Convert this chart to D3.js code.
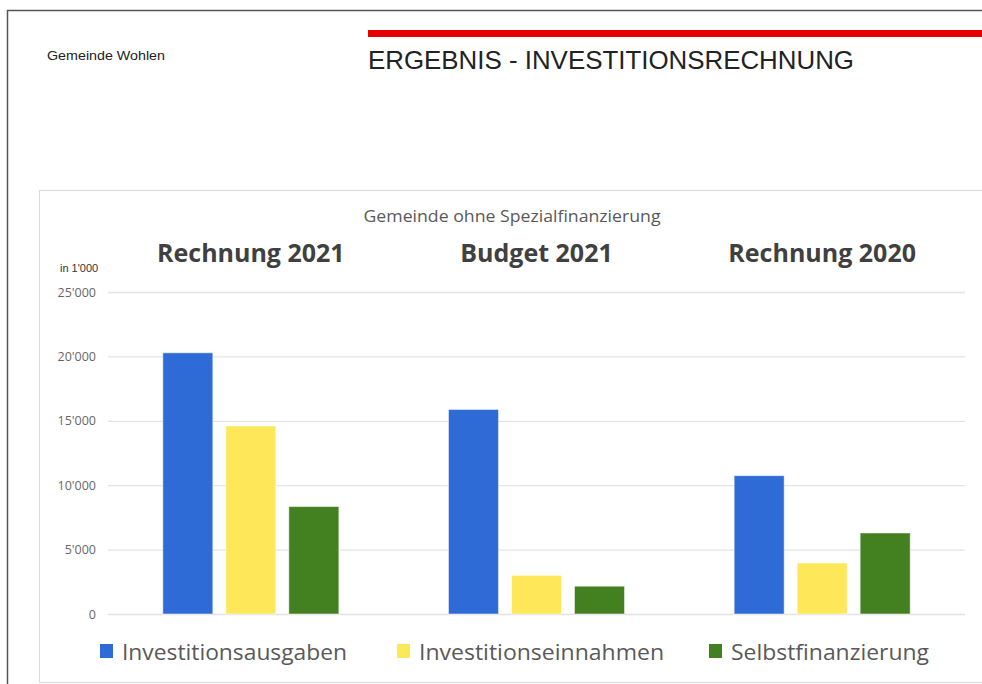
<!DOCTYPE html>
<html>
<head>
<meta charset="utf-8">
<script src="https://cdn.jsdelivr.net/npm/d3@7"></script>
<style>
  body { margin: 0; background: #fff; }
  svg { display: block; }
</style>
</head>
<body>
<div id="chart"></div>
<script>
// chart values, in 1'000 CHF
const groups = ["Rechnung 2021", "Budget 2021", "Rechnung 2020"];
const seriesNames = ["Investitionsausgaben", "Investitionseinnahmen", "Selbstfinanzierung"];
const ausgaben = [20280, 15880, 10740];
const einnahmen = [14600, 3000, 3960];
const selbstfinanzierung = [8340, 2160, 6290];
const yTicks = [0, 5000, 10000, 15000, 20000, 25000];
const colors = ["#2f6bd6", "#ffe75a", "#428020"];

const W = 982, H = 684;

const svg = d3.select("#chart").append("svg")
    .attr("width", W)
    .attr("height", H);

// page frame
svg.append("path")
    .attr("d", `M7.5,${H} V10.5 H${W}`)
    .attr("fill", "none")
    .attr("stroke", "#555")
    .attr("stroke-width", 1.5);

svg.append("text")
    .attr("x", 47).attr("y", 60)
    .attr("textLength", 118)
    .attr("lengthAdjust", "spacingAndGlyphs")
    .style("font-family", "Liberation Sans, Arial, sans-serif")
    .style("font-size", "13.5px")
    .style("fill", "#222")
    .text("Gemeinde Wohlen");

svg.append("rect")
    .attr("x", 368).attr("y", 30)
    .attr("width", W - 368).attr("height", 7)
    .attr("fill", "#e60000");

svg.append("text")
    .attr("x", 368).attr("y", 69)
    .attr("textLength", 486)
    .attr("lengthAdjust", "spacingAndGlyphs")
    .style("font-family", "Liberation Sans, Arial, sans-serif")
    .style("font-size", "26px")
    .style("fill", "#222")
    .text("ERGEBNIS - INVESTITIONSRECHNUNG");

// chart area box
svg.append("rect")
    .attr("x", 39.5).attr("y", 190.5)
    .attr("width", W).attr("height", 492)
    .attr("fill", "#fff")
    .attr("stroke", "#d9d9d9");

const margin = {left: 108, right: W - 965, top: 292, bottom: H - 614};

const x = d3.scaleBand()
    .domain(groups)
    .range([margin.left, W - margin.right])
    .paddingInner(0)
    .paddingOuter(0);

const xInner = d3.scaleBand()
    .domain(seriesNames)
    .range([0, x.bandwidth()])
    .paddingInner(0.206)
    .paddingOuter(0.87);

const y = d3.scaleLinear()
    .domain([0, 25000])
    .range([H - margin.bottom, margin.top]);

const fmt = v => d3.format(",")(v).replace(/,/g, "'");

// grid
const yAxis = d3.axisLeft(y)
    .tickValues(yTicks)
    .tickSize(-(W - margin.left - margin.right))
    .tickPadding(12)
    .tickFormat(fmt);

const gAxis = svg.append("g")
    .attr("transform", `translate(${margin.left},0)`)
    .call(yAxis);

gAxis.select(".domain").remove();
gAxis.selectAll(".tick line")
    .attr("stroke", "#e3e3e3")
    .attr("stroke-width", 1.3);
gAxis.selectAll(".tick text")
    .style("font-family", "Open Sans, sans-serif")
    .style("font-size", "12.5px")
    .style("fill", "#666");

svg.append("text")
    .attr("x", 60).attr("y", 272)
    .style("font-family", "Liberation Sans, Arial, sans-serif")
    .style("font-size", "11px")
    .style("fill", "#333")
    .text("in 1'000");

// bars
const rows = groups.map((g, i) => ({
    group: g,
    values: [ausgaben[i], einnahmen[i], selbstfinanzierung[i]]
}));

const gGroups = svg.append("g").selectAll("g")
    .data(rows)
    .join("g")
    .attr("transform", d => `translate(${x(d.group)},0)`);

gGroups.selectAll("rect")
    .data(d => d.values.map((v, j) => ({name: seriesNames[j], value: v, color: colors[j]})))
    .join("rect")
    .attr("x", d => xInner(d.name))
    .attr("width", xInner.bandwidth())
    .attr("y", d => y(d.value))
    .attr("height", d => y(0) - y(d.value))
    .attr("fill", d => d.color)
    .attr("stroke", "rgba(255,255,255,0.5)")
    .attr("stroke-width", 1);

// group headings
svg.append("g").selectAll("text")
    .data(groups)
    .join("text")
    .attr("x", d => x(d) + x.bandwidth() / 2)
    .attr("y", 262)
    .attr("text-anchor", "middle")
    .style("font-family", "Open Sans, sans-serif")
    .style("font-weight", "bold")
    .style("font-size", "25px")
    .style("fill", "#404040")
    .text(d => d);

svg.append("text")
    .attr("x", 512).attr("y", 222)
    .attr("text-anchor", "middle")
    .attr("textLength", 297)
    .attr("lengthAdjust", "spacingAndGlyphs")
    .style("font-family", "Open Sans, sans-serif")
    .style("font-size", "16.5px")
    .style("fill", "#595959")
    .text("Gemeinde ohne Spezialfinanzierung");

// legend
const legendX = [100, 397, 709];
const legendW = [225, 245, 198];
const legend = svg.append("g").selectAll("g")
    .data(seriesNames)
    .join("g")
    .attr("transform", (d, i) => `translate(${legendX[i]},644)`);

legend.append("rect")
    .attr("width", 13).attr("height", 14)
    .attr("fill", (d, i) => colors[i]);

legend.append("text")
    .attr("x", 22).attr("y", 16)
    .attr("textLength", (d, i) => legendW[i])
    .attr("lengthAdjust", "spacingAndGlyphs")
    .style("font-family", "Open Sans, sans-serif")
    .style("font-size", "21px")
    .style("fill", "#595959")
    .text(d => d);
</script>
</body>
</html>
